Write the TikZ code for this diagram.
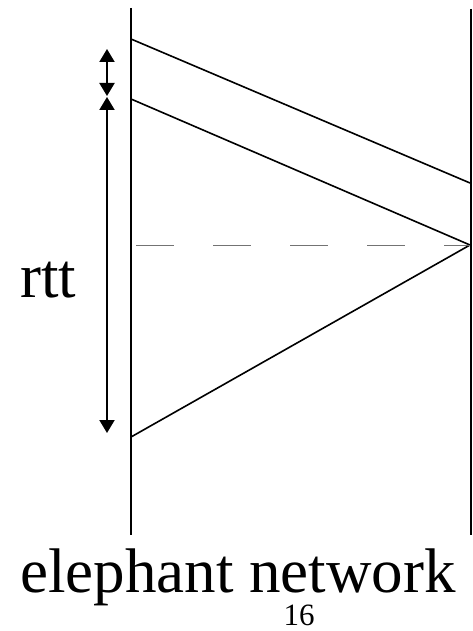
\documentclass[tikz,border=0pt]{standalone}
\usepackage{fontspec}
\setmainfont{Liberation Serif}
\usetikzlibrary{arrows.meta}
\begin{document}
\begin{tikzpicture}[x=1pt,y=-1pt,
  timeline/.style={line width=2pt},
  msg/.style={line width=1.6pt},
  gap/.style={line width=2pt,{Triangle[length=13pt,width=15pt]}-{Triangle[length=13pt,width=15pt]}},
  mark line/.style={line width=1pt,black!55,dash pattern=on 38pt off 39pt},
  bigtext/.style={inner sep=0pt,anchor=base west,font=\fontsize{63}{70}\selectfont},
  smalltext/.style={inner sep=0pt,anchor=base,font=\fontsize{31}{36}\selectfont}]
\useasboundingbox (0,0) rectangle (473,631);
\coordinate (Ltop) at (131,8);
\coordinate (Lbot) at (131,535);
\coordinate (Rtop) at (471,9);
\coordinate (Rbot) at (471,535);
\coordinate (a1) at (131,39);
\coordinate (b1) at (470,183);
\coordinate (a2) at (131,99);
\coordinate (b2) at (470,245);
\coordinate (c3) at (131,437);
\coordinate (d0) at (136,245);
\coordinate (p1) at (107,49);
\coordinate (p2) at (107,96);
\coordinate (p3) at (107,97);
\coordinate (p4) at (107,433);
\draw[timeline] (Ltop) -- (Lbot);
\draw[timeline] (Rtop) -- (Rbot);
\draw[msg] (a1) -- (b1);
\draw[msg] (a2) -- (b2) -- (c3);
\draw[mark line] (d0) -- (b2);
\draw[gap] (p1) -- (p2);
\draw[gap] (p3) -- (p4);
\node[bigtext] (rtt) at (20,297) {rtt};
\node[bigtext] (title) at (20,592) {elephant network};
\node[smalltext] (page) at (299,625) {16};
\end{tikzpicture}
\end{document}
